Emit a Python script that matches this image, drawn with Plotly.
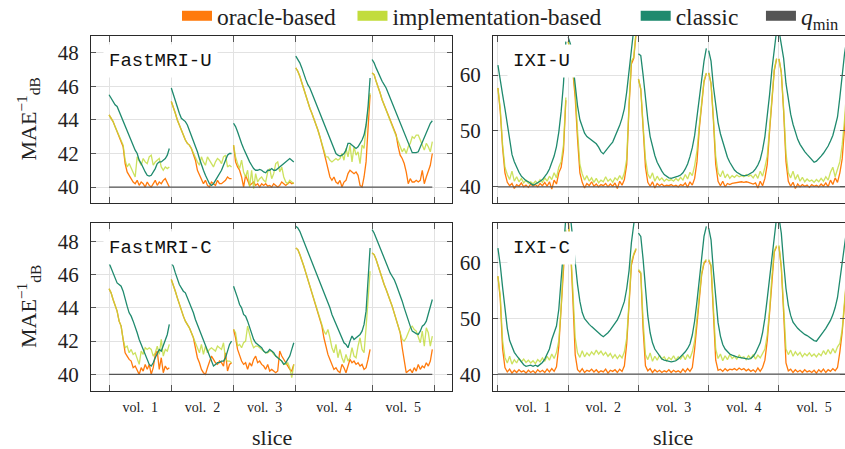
import plotly.graph_objects as go

# ---------------- data ----------------
vol_labels = ["vol.\u20021", "vol.\u20022", "vol.\u20023", "vol.\u20024", "vol.\u20025"]
q_min = 40.0

# FastMRI: slices per volume
fm_vol_len = [31, 31, 31, 38, 31]

fmu_oracle = [
    [44.3,44.1,43.9,43.6,43.3,43.0,42.7,42.4,41.4,40.9,40.7,40.5,40.3,40.2,40.4,40.1,40.3,40.2,40.0,40.3,40.1,40.0,40.2,40.4,40.1,40.3,40.2,40.4,40.5,40.2,40.0],
    [45.1,44.8,44.4,44.0,43.7,43.3,43.0,42.8,42.6,42.5,42.3,42.0,41.6,41.0,40.7,40.4,40.2,40.4,40.1,40.0,40.3,40.2,40.1,40.4,40.2,40.2,40.3,40.4,40.6,40.5,40.5],
    [42.5,41.5,41.2,41.0,40.6,40.0,40.7,40.4,40.1,40.2,40.3,40.1,40.2,40.0,40.2,40.1,40.2,40.05,40.1,40.0,40.2,40.1,40.0,40.1,40.3,40.2,40.1,40.2,40.3,40.2,40.25],
    [47.1,46.9,46.6,46.2,45.8,45.4,45.0,44.7,44.4,44.1,43.8,43.4,43.0,42.6,42.1,41.6,41.0,40.6,40.4,40.6,40.3,40.2,40.4,40.0,40.3,40.4,40.8,41.0,40.9,40.8,40.9,40.7,40.1,40.0,40.6,41.5,43.5,45.5],
    [46.8,46.7,46.3,46.0,45.6,45.2,44.9,44.6,44.3,44.0,43.7,43.4,43.1,42.4,41.9,41.7,41.4,40.9,40.2,40.5,40.3,40.3,40.4,40.3,40.4,41.0,40.2,40.6,40.9,41.3,42.0],
]
fmu_impl = [
    [44.3,44.1,43.9,43.6,43.3,43.0,42.7,42.5,41.6,41.2,41.4,41.1,40.9,40.6,41.8,41.5,41.3,41.7,41.5,41.4,41.8,41.9,41.3,41.5,41.6,41.7,41.2,41.0,41.2,41.1,41.2],
    [45.1,44.8,44.4,44.0,43.7,43.3,43.0,42.8,42.6,42.5,42.3,42.0,41.7,41.5,41.3,41.8,41.5,41.3,41.8,41.6,41.4,41.2,41.5,41.7,41.6,41.4,41.8,41.9,41.2,41.3,41.2],
    [42.5,41.8,41.4,41.1,41.6,40.9,40.6,41.0,40.0,41.0,39.9,40.8,40.3,40.5,40.6,40.4,40.3,40.9,41.1,40.5,40.8,41.4,41.5,40.9,41.2,40.6,40.3,40.2,40.4,40.3,40.2],
    [47.1,46.9,46.6,46.2,45.8,45.4,45.0,44.7,44.4,44.1,43.8,43.4,43.0,42.6,42.2,41.8,41.8,41.6,41.5,41.6,41.7,41.6,41.7,42.0,41.6,42.3,41.8,42.5,41.5,42.4,41.9,42.1,41.4,42.5,42.3,43.6,44.5,45.6],
    [46.8,46.7,46.3,46.0,45.6,45.2,44.9,44.6,44.3,44.0,43.7,43.4,43.1,42.7,42.4,42.1,42.3,42.0,42.4,42.6,43.0,42.9,43.1,43.1,42.8,42.5,42.2,42.6,42.4,42.1,42.7],
]
fmu_classic = [
    [45.5,45.3,45.1,44.9,44.8,44.5,44.3,44.0,43.6,43.3,43.0,42.8,42.5,42.2,42.0,41.6,41.4,41.1,40.9,40.7,40.65,40.7,40.9,41.1,41.4,41.5,41.5,41.6,41.7,41.9,42.3],
    [45.9,45.5,45.2,44.8,44.4,44.1,44.0,43.9,43.7,43.4,43.0,42.8,42.4,42.1,41.7,41.3,41.0,40.7,40.4,40.2,40.1,40.2,40.4,40.6,40.8,41.0,41.3,41.6,41.9,42.0,42.0],
    [43.8,43.6,43.3,42.9,42.6,42.3,42.0,41.7,41.5,41.3,41.1,41.0,41.0,41.05,41.0,40.9,40.85,41.0,41.0,41.1,41.0,41.0,41.1,41.2,41.3,41.4,41.5,41.6,41.7,41.6,41.5],
    [47.8,47.6,47.4,47.1,46.7,46.4,46.1,45.9,45.6,45.3,45.0,44.7,44.4,44.1,43.8,43.5,43.2,42.9,42.6,42.3,42.0,41.9,41.85,41.9,42.0,42.2,42.6,42.6,42.5,42.4,42.3,42.4,42.6,42.8,43.1,43.7,44.8,46.5],
    [47.6,47.4,47.1,46.8,46.5,46.3,46.1,45.9,45.6,45.3,45.0,44.7,44.4,44.1,43.8,43.5,43.2,42.9,42.6,42.3,42.05,42.05,42.05,42.1,42.4,42.7,43.0,43.3,43.6,43.8,43.95],
]

fmc_oracle = [
    [45.15,44.9,44.5,44.1,43.8,43.2,42.9,42.1,41.3,41.1,40.9,40.8,40.4,40.5,40.2,40.0,40.4,40.2,40.6,40.3,40.6,40.0,40.4,41.2,41.4,40.3,41.0,40.1,40.5,40.3,40.4],
    [45.7,45.4,45.0,44.6,44.2,43.9,43.5,43.2,43.0,42.8,42.5,42.2,41.6,41.0,40.7,40.3,40.1,40.0,40.4,40.7,41.1,40.9,40.7,40.6,40.8,40.7,40.5,41.3,40.2,40.6,40.7],
    [42.7,42.2,41.5,41.1,40.8,40.6,40.7,40.3,40.7,40.5,40.9,41.1,40.7,40.8,40.6,40.5,40.3,40.6,40.2,40.3,40.2,40.1,40.2,41.4,41.1,40.9,40.7,40.5,40.3,40.2,40.6],
    [47.6,47.5,47.2,46.9,46.5,46.1,45.7,45.3,44.9,44.5,44.2,43.8,43.4,42.9,42.2,41.7,41.2,40.9,40.6,40.3,40.4,40.2,40.1,40.6,40.4,40.1,40.5,40.9,40.7,40.8,40.6,40.7,40.5,40.6,40.3,40.4,40.9,41.5],
    [47.3,47.2,46.9,46.5,46.2,45.8,45.4,45.1,44.8,44.5,44.1,43.7,43.3,42.9,42.5,41.6,40.8,40.1,40.2,40.3,40.1,40.4,40.2,40.6,40.3,40.5,40.4,40.7,40.5,40.8,41.5],
]
fmc_impl = [
    [45.15,44.9,44.5,44.1,43.8,43.2,42.9,42.1,41.6,41.7,41.3,41.5,41.2,41.3,40.9,40.6,41.4,41.2,41.6,41.5,41.6,41.5,41.1,41.3,41.7,41.2,42.1,41.1,41.5,41.4,41.8],
    [45.7,45.4,45.0,44.6,44.2,43.9,43.5,43.2,43.0,42.8,42.5,42.2,41.9,41.6,41.3,41.8,41.2,41.7,41.3,41.5,41.6,41.5,41.4,41.7,41.6,41.5,41.9,40.9,40.8,40.8,40.7],
    [42.7,42.5,41.7,41.8,41.6,41.9,42.0,42.9,42.4,41.9,41.6,41.7,41.7,41.6,41.5,41.4,41.3,41.3,41.4,41.4,41.2,41.1,41.0,40.9,40.8,40.6,40.6,40.7,40.4,39.8,40.6],
    [47.6,47.5,47.2,46.9,46.5,46.1,45.7,45.3,44.9,44.5,44.2,43.8,43.4,43.0,42.6,42.4,42.7,42.2,41.6,41.3,41.8,41.0,41.5,41.0,40.7,41.2,40.8,41.0,41.6,41.1,41.0,41.7,42.2,41.5,41.3,42.8,44.5,46.2],
    [47.3,47.2,46.9,46.5,46.2,45.8,45.4,45.1,44.8,44.5,44.1,43.7,43.3,42.9,42.5,42.1,42.0,42.2,42.5,42.8,42.9,42.7,42.6,42.2,41.9,42.6,41.7,42.8,42.5,41.7,42.3],
]
fmc_classic = [
    [46.7,46.4,46.0,45.7,45.5,45.4,45.3,45.0,44.5,44.1,43.7,43.5,43.2,42.9,42.5,42.1,41.8,41.4,41.1,40.8,40.6,40.5,40.7,41.0,41.3,41.5,41.4,41.7,42.0,42.4,43.0],
    [46.7,46.5,46.1,45.7,45.4,45.2,45.0,44.9,44.6,44.4,44.0,43.7,43.3,43.0,42.7,42.4,42.1,41.8,41.5,41.1,40.8,40.5,40.6,40.7,40.7,40.8,40.8,41.0,41.4,41.8,42.0],
    [45.3,45.0,44.6,44.2,44.0,43.6,43.5,43.2,42.8,42.4,42.1,41.9,41.8,41.7,41.6,41.4,41.3,41.35,41.5,41.4,41.3,41.1,41.0,40.9,40.8,40.6,40.7,40.9,41.1,41.5,41.9],
    [48.9,48.8,48.6,48.3,48.0,47.6,47.3,47.0,46.7,46.4,46.1,45.8,45.5,45.2,44.9,44.6,44.3,44.0,43.6,43.3,43.0,42.7,42.4,42.1,41.9,41.8,41.6,42.0,42.3,42.1,42.2,42.3,42.4,42.6,43.0,43.8,45.4,47.6],
    [48.7,48.5,48.2,47.9,47.6,47.2,46.9,46.6,46.3,46.1,45.9,45.7,45.4,45.1,44.8,44.4,44.0,43.6,43.2,42.9,42.6,42.5,42.45,42.4,42.6,42.9,43.0,43.2,43.6,44.0,44.5],
]

# IXI: slices per volume (resampled)
ixi_vol_len = [30, 30, 30, 30, 30]

ixu_oracle = [
    [57.7,53.5,47.0,42.5,40.8,40.2,40.6,39.7,40.4,40.1,40.7,40.0,40.3,39.9,40.5,40.1,40.4,40.0,40.6,40.2,40.8,40.1,40.9,39.6,41.2,40.5,42.5,43.5,46.5,55.5],
    [66.0,64.0,60.5,56.0,48.5,42.5,40.8,39.8,40.6,40.2,40.9,40.1,40.5,40.0,40.4,40.2,40.6,40.0,40.5,40.1,40.7,39.7,41.0,40.3,41.3,44.0,54.5,62.0,63.0,67.5],
    [59.3,57.5,50.5,43.5,40.8,40.1,40.9,39.8,40.6,40.2,40.5,40.1,40.3,40.2,40.4,40.1,40.3,40.0,40.4,40.2,40.7,39.9,40.9,40.3,41.5,44.5,50.5,55.0,58.8,60.3],
    [60.4,58.5,52.0,44.0,41.0,40.2,41.0,40.0,40.6,40.4,40.6,40.7,40.8,40.8,40.9,40.8,40.9,40.8,40.7,40.5,40.7,39.8,41.0,40.2,41.5,44.0,50.0,56.0,60.8,62.9],
    [62.9,60.5,53.5,44.5,41.0,40.1,40.8,39.7,40.5,40.0,40.4,40.1,40.3,39.9,40.4,40.1,40.3,40.0,40.5,40.1,40.7,40.0,41.2,40.4,41.6,40.8,42.5,45.0,50.5,57.0],
]
ixu_impl = [
    [57.7,54.0,47.5,43.5,42.2,41.3,42.8,41.0,41.8,40.9,41.5,40.7,41.2,40.6,40.9,40.5,41.0,40.6,41.3,40.8,41.6,41.0,41.9,41.3,42.5,41.6,43.5,44.5,47.5,56.0],
    [66.0,64.0,61.0,57.0,50.0,44.0,42.3,41.2,42.0,41.0,41.6,40.8,41.5,40.7,41.2,40.9,41.8,41.0,41.4,40.8,41.6,41.2,42.0,41.3,42.5,45.0,55.0,62.5,63.2,68.0],
    [59.3,57.5,51.0,45.0,42.3,41.5,42.5,41.0,41.9,41.2,41.6,41.0,41.4,41.1,41.3,41.0,41.5,41.1,41.7,41.2,42.2,41.4,42.6,42.0,43.8,46.5,51.0,55.5,59.0,60.4],
    [60.4,58.5,52.5,45.5,42.5,41.8,42.9,41.6,42.3,41.5,42.0,41.7,42.1,41.8,42.0,41.8,42.2,41.9,42.1,41.6,42.3,41.5,42.8,41.9,43.5,45.5,50.5,56.5,61.0,63.0],
    [62.9,60.5,54.0,46.0,42.5,41.6,42.8,41.3,42.2,41.0,41.7,40.9,41.4,41.0,41.2,40.8,41.3,40.9,41.5,41.0,41.8,41.2,42.6,43.5,41.8,43.0,44.5,47.5,52.0,58.0],
]
ixu_classic = [
    [61.8,59.5,56.5,54.0,51.0,48.0,45.8,44.5,43.4,42.6,41.9,41.4,41.1,40.9,40.6,40.3,40.5,40.7,41.0,41.3,41.8,42.4,43.2,44.2,45.5,47.2,49.8,53.5,58.5,66.0],
    [66.8,65.5,62.0,58.0,54.5,52.0,50.6,49.6,49.0,48.7,48.4,48.1,47.7,47.1,46.3,45.9,46.5,47.0,47.5,48.0,48.9,49.8,51.0,52.3,54.0,57.0,61.5,66.0,70.0,72.0],
    [63.8,63.5,60.0,55.5,52.0,49.0,47.2,45.6,44.4,43.5,42.8,42.2,41.9,41.6,41.5,41.6,41.7,41.9,42.1,42.5,43.2,44.1,45.4,47.0,49.2,52.5,56.0,59.5,62.5,64.8],
    [64.4,62.5,58.0,54.5,51.5,49.5,48.0,46.8,45.3,44.4,43.7,43.0,42.6,42.3,42.1,42.0,42.0,42.2,42.4,42.7,43.2,43.9,44.9,46.6,49.0,52.5,56.5,61.0,64.8,68.0],
    [68.0,65.5,63.0,58.5,55.5,53.0,51.2,49.6,48.5,47.6,46.9,46.3,45.8,45.3,44.7,44.4,44.6,45.0,45.5,46.0,46.6,47.3,48.2,49.2,50.8,52.5,56.0,60.0,63.8,66.5],
]

ixc_oracle = [
    [57.5,53.5,44.5,41.2,40.4,40.9,40.2,40.7,40.3,40.8,40.4,40.6,40.2,40.7,40.3,40.6,40.2,40.8,40.4,40.7,40.3,40.9,40.4,41.0,40.5,41.3,45.0,51.5,59.5,65.5],
    [67.5,62.5,53.5,43.5,40.8,40.4,41.0,40.3,40.7,40.5,40.9,40.4,40.8,40.3,40.6,40.4,40.9,40.2,40.7,40.5,40.8,40.3,40.9,40.5,41.5,45.5,52.5,59.5,61.3,62.3],
    [58.5,58.0,48.0,41.5,40.6,41.0,40.3,40.8,40.4,40.7,40.3,40.6,40.4,40.8,40.3,40.7,40.4,40.6,40.3,40.9,40.4,41.0,40.5,41.2,44.5,49.0,53.5,57.8,59.8,60.3],
    [60.3,59.3,51.0,42.5,40.7,40.9,40.5,41.0,40.6,40.9,40.8,41.0,40.7,41.1,40.8,41.0,40.6,40.9,40.5,40.8,40.4,41.1,40.5,41.2,42.5,46.0,51.0,57.0,61.8,62.8],
    [62.8,59.0,51.0,42.0,40.6,40.9,40.3,40.8,40.4,40.7,40.3,40.8,40.4,40.6,40.3,40.7,40.2,40.8,40.4,40.9,40.3,40.8,40.5,41.0,40.6,41.2,44.0,47.5,52.5,57.5],
]
ixc_impl = [
    [57.5,54.0,46.0,43.0,42.0,43.2,41.8,42.6,42.0,42.9,42.2,42.7,42.1,42.5,42.0,42.4,41.9,42.6,42.2,42.9,42.3,43.2,42.5,43.6,42.8,43.9,46.0,52.0,60.0,65.8],
    [67.5,63.0,55.0,46.5,43.8,43.0,44.2,43.1,43.8,43.3,44.0,43.5,44.3,43.6,44.1,43.4,43.9,43.2,43.7,42.9,43.5,42.8,43.4,42.9,44.0,46.5,53.0,60.0,61.5,62.5],
    [58.7,58.2,49.5,43.5,42.6,43.8,42.3,43.2,42.5,43.4,42.7,43.1,42.4,43.0,42.6,43.3,42.5,43.1,42.7,43.4,42.6,43.5,42.8,44.0,46.0,49.5,54.0,58.0,60.0,60.5],
    [60.5,59.5,52.0,44.5,42.8,43.6,42.4,43.3,42.6,43.5,42.8,43.2,42.7,43.4,42.9,43.1,42.6,43.3,42.8,43.5,42.7,43.4,42.9,43.8,44.5,47.0,51.5,57.5,62.0,63.0],
    [63.0,59.3,52.0,44.5,43.5,44.3,43.2,44.0,43.4,43.9,43.1,43.7,43.3,43.8,43.2,43.6,43.1,43.7,43.3,44.2,43.5,44.4,43.6,44.6,43.8,44.9,45.5,48.0,53.0,58.0],
]
ixc_classic = [
    [62.5,59.5,55.5,51.8,48.2,46.0,44.8,43.9,43.3,42.7,42.1,41.7,41.4,41.5,41.6,41.4,41.6,41.4,41.8,42.1,42.7,43.6,44.5,46.2,47.4,48.6,51.6,56.3,62.3,68.0],
    [69.0,68.0,64.0,59.8,56.0,53.0,51.0,49.9,49.3,48.9,48.5,48.1,47.8,47.4,47.0,46.7,47.0,47.4,47.9,48.5,49.1,49.7,50.6,51.7,53.0,55.3,58.5,63.5,68.0,70.0],
    [65.2,64.6,60.5,55.1,50.4,47.4,45.6,44.5,43.9,43.1,42.7,42.5,42.4,42.3,42.2,42.3,42.4,42.7,43.1,43.5,44.0,44.6,45.4,47.0,49.5,53.0,57.0,61.0,64.6,66.4],
    [66.1,64.0,58.5,53.0,49.2,46.8,45.3,44.5,44.0,43.6,43.4,43.2,43.1,43.0,42.9,42.8,42.7,42.7,42.8,43.2,43.8,44.6,45.6,47.4,50.0,53.5,57.0,61.0,64.8,68.0],
    [68.0,65.2,59.9,55.3,52.3,50.5,49.3,48.7,48.2,47.8,47.4,47.1,46.9,46.6,46.3,46.0,45.9,46.4,46.9,47.6,48.2,48.8,49.6,50.6,51.9,53.7,56.5,60.0,63.0,66.0],
]

# ---------------- style ----------------
SERIF = "Liberation Serif"
MONO = "Liberation Mono"
C_OR = "#ff7a0c"
C_IM = "#c2dc3c"
C_CL = "#1f8a6e"
C_Q = "#555555"
GRID = "#e2e2e2"
FRAME = "#2a2a2a"
TICKC = "#555555"

W, H = 845, 449
def px(x): return x / W
def py(y): return 1 - y / H

def starts_of(lens):
    s, out = 0, []
    for n in lens:
        out.append(s)
        s += n
    return out

def build(vols, starts):
    xs, ys = [], []
    for s, v in zip(starts, vols):
        xs += [s + j for j in range(len(v))] + [None]
        ys += list(v) + [None]
    return xs, ys

fm_starts = starts_of(fm_vol_len)
ixi_starts = starts_of(ixi_vol_len)
fm_total = sum(fm_vol_len)
ixi_total = sum(ixi_vol_len)

fig = go.Figure()

panels = [
    ("x", "y", fmu_oracle, fmu_impl, fmu_classic, fm_starts, fm_total),
    ("x2", "y2", ixu_oracle, ixu_impl, ixu_classic, ixi_starts, ixi_total),
    ("x3", "y3", fmc_oracle, fmc_impl, fmc_classic, fm_starts, fm_total),
    ("x4", "y4", ixc_oracle, ixc_impl, ixc_classic, ixi_starts, ixi_total),
]
for xa, ya, o, im, cl, st, tot in panels:
    for vols, col, op in ((o, C_OR, 1.0), (im, C_IM, 0.82), (cl, C_CL, 1.0)):
        xs, ys = build(vols, st)
        fig.add_trace(go.Scatter(x=xs, y=ys, mode="lines", xaxis=xa, yaxis=ya,
                                 line=dict(color=col, width=1.3), opacity=op,
                                 showlegend=False, hoverinfo="skip"))
    fig.add_trace(go.Scatter(x=[0, tot - 1], y=[q_min, q_min], mode="lines",
                             xaxis=xa, yaxis=ya, line=dict(color=C_Q, width=1.3),
                             showlegend=False, hoverinfo="skip"))

# legend entries
NB = "\u00a0"
for name, col in (("oracle-based" + NB * 2, C_OR),
                  ("implementation-based" + NB * 5, C_IM),
                  ("classic" + NB * 3, C_CL),
                  ("<i>q</i><sub>min</sub>", C_Q)):
    fig.add_trace(go.Scatter(x=[None], y=[None], mode="lines", name=name,
                             line=dict(color=col, width=10), xaxis="x", yaxis="y"))

XL = [px(91), px(452)]
XR = [px(493), 1.0]
YT = [py(203), py(36)]
YB = [py(391), py(223)]

def xaxis(domain, anchor, lens, starts, rng, labels):
    centers = [s + n / 2 for s, n in zip(starts, lens)]
    bounds = starts + [starts[-1] + lens[-1]]
    return dict(domain=domain, anchor=anchor, range=rng, showline=True,
                linecolor=FRAME, linewidth=1.3, mirror="allticks",
                tickmode="array", tickvals=centers, ticktext=vol_labels,
                ticks="", showticklabels=labels, showgrid=False, zeroline=False,
                tickfont=dict(family=SERIF, size=14, color="#222"),
                ticklabelstandoff=3,
                minor=dict(tickmode="array", tickvals=bounds, ticks="inside",
                           ticklen=6, tickcolor=TICKC, tickwidth=1,
                           showgrid=True, gridcolor=GRID, gridwidth=1))

def yaxis(domain, anchor, rng, tv):
    return dict(domain=domain, anchor=anchor, range=rng, tickmode="array",
                tickvals=tv, ticks="inside", ticklen=5, tickcolor=TICKC,
                tickwidth=1, mirror="allticks", showline=True, linecolor=FRAME,
                linewidth=1.3, showgrid=True, gridcolor=GRID, gridwidth=1,
                zeroline=False, ticklabelstandoff=7,
                tickfont=dict(family=SERIF, size=21, color="#222"))

fm_ticks = [40, 42, 44, 46, 48]
ixi_ticks = [40, 50, 60]
fm_range = [-9, 170.8]
ixi_range = [-2.1, 148.2]

fig.update_layout(
    width=W, height=H, margin=dict(l=0, r=0, t=0, b=0, autoexpand=False),
    paper_bgcolor="white", plot_bgcolor="white",
    xaxis=xaxis(XL, "y", fm_vol_len, fm_starts, fm_range, False),
    yaxis=yaxis(YT, "x", [39.05, 49.0], fm_ticks),
    xaxis2=xaxis(XR, "y2", ixi_vol_len, ixi_starts, ixi_range, False),
    yaxis2=yaxis(YT, "x2", [37.1, 67.0], ixi_ticks),
    xaxis3=xaxis(XL, "y3", fm_vol_len, fm_starts, fm_range, True),
    yaxis3=yaxis(YB, "x3", [39.0, 49.1], fm_ticks),
    xaxis4=xaxis(XR, "y4", ixi_vol_len, ixi_starts, ixi_range, True),
    yaxis4=yaxis(YB, "x4", [37.0, 67.0], ixi_ticks),
    legend=dict(orientation="h", x=px(177), y=py(16), xanchor="left",
                yanchor="middle", font=dict(family=SERIF, size=23.5, color="#222"),
                bgcolor="rgba(0,0,0,0)", traceorder="normal"),
    font=dict(family=SERIF, color="#222"),
)

ann = []
for text, x, y in (("FastMRI-U", 103, 44), ("IXI-U", 507, 44),
                   ("FastMRI-C", 103, 231), ("IXI-C", 507, 231)):
    ann.append(dict(text=text, xref="paper", yref="paper", x=px(x), y=py(y),
                    xanchor="left", yanchor="top", showarrow=False,
                    bgcolor="white", borderpad=5,
                    font=dict(family=MONO, size=19, color="#111")))
ytitle = "MAE<sup>\u22121</sup><sub>dB</sub>"
for yc in (119.5, 307):
    ann.append(dict(text=ytitle, xref="paper", yref="paper", x=px(28), y=py(yc),
                    xanchor="center", yanchor="middle", textangle=-90,
                    showarrow=False, font=dict(family=SERIF, size=22, color="#222")))
for xc in (271.5, 673):
    ann.append(dict(text="slice", xref="paper", yref="paper", x=px(xc), y=py(437),
                    xanchor="center", yanchor="middle", showarrow=False,
                    font=dict(family=SERIF, size=22, color="#222")))
fig.update_layout(annotations=ann)

fig.write_html("out.html")
